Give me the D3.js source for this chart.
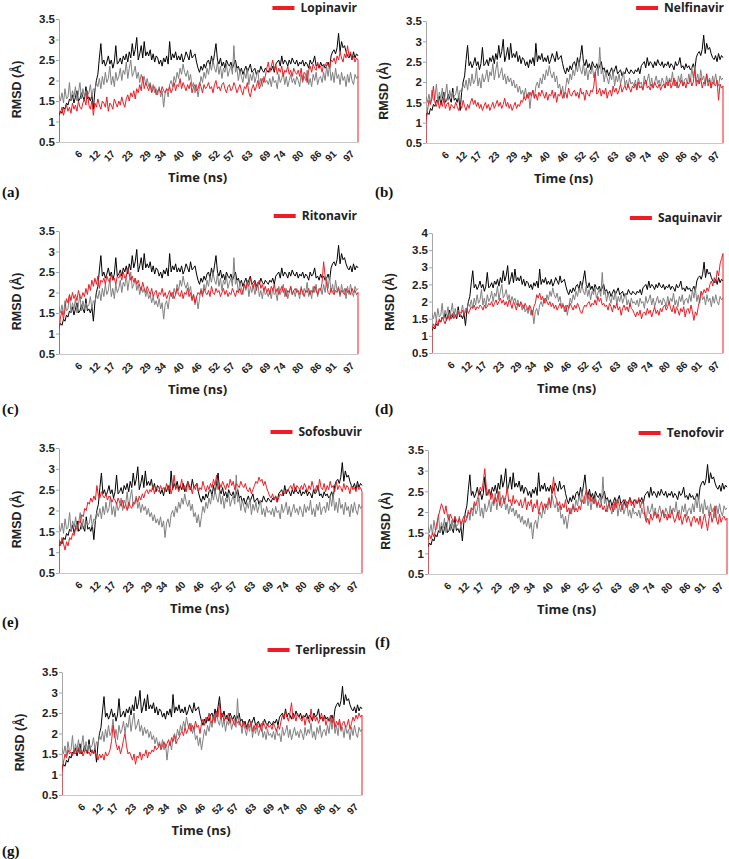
<!DOCTYPE html>
<html><head><meta charset="utf-8">
<script src="https://cdn.jsdelivr.net/npm/d3@7"></script>
<style>body{margin:0;background:#fff}</style></head>
<body>
<svg id="c" width="729" height="859"></svg>
<script>
const drugs = ["Lopinavir","Nelfinavir","Ritonavir","Saquinavir","Sofosbuvir","Tenofovir","Terlipressin"];
const panelTags = ["(a)","(b)","(c)","(d)","(e)","(f)","(g)"];
const xTickLabels = [6,12,17,23,29,34,40,46,52,57,63,69,74,80,86,91,97];
const yTicksLow = [0.5,1,1.5,2,2.5,3,3.5];
const yTicksHigh = [0.5,1,1.5,2,2.5,3,3.5,4];
const timeRange = [0,100];
const edgeValue = 0;

// reference traces (identical in every panel)
const refBlack = [
1.15,1.25,1.2,1.35,1.3,1.45,1.4,1.55,1.5,1.65,1.45,1.6,1.75,1.5,1.55,1.7,1.6,1.5,1.85,1.55,
1.6,1.5,1.65,1.3,1.75,2.0,2.15,2.55,2.9,2.4,2.5,2.35,2.45,2.6,2.4,2.5,2.3,2.45,2.85,2.4,
2.45,2.55,2.4,2.6,2.5,2.65,2.45,2.7,2.55,2.9,2.6,2.75,3.05,2.5,2.65,2.85,2.55,2.95,2.6,2.7,
2.6,2.75,2.5,2.65,2.45,2.6,2.55,2.4,2.5,2.35,2.55,2.45,2.6,2.4,2.95,2.5,2.65,2.55,2.7,2.5,
2.6,2.5,2.65,2.45,2.55,2.7,2.6,2.5,2.75,2.55,2.6,2.65,2.45,2.3,2.2,2.35,2.25,2.4,2.3,2.45,
2.5,2.35,2.6,2.4,2.65,2.9,2.5,2.4,2.55,2.35,2.45,2.3,2.5,2.4,2.35,2.45,2.3,2.4,2.5,2.3,
2.35,2.2,2.3,2.15,2.25,2.35,2.2,2.3,2.4,2.2,2.25,2.3,2.15,2.25,2.2,2.35,2.25,2.2,2.3,2.25,
2.2,2.3,2.25,2.35,2.2,2.4,2.45,2.5,2.35,2.6,2.4,2.5,2.45,2.35,2.5,2.4,2.55,2.45,2.4,2.5,
2.35,2.45,2.4,2.5,2.35,2.45,2.4,2.3,2.5,2.4,2.45,2.6,2.35,2.4,2.3,2.45,2.35,2.4,2.3,2.35,
2.45,2.3,2.6,2.7,2.75,2.65,2.8,3.15,2.7,2.95,2.8,2.85,2.7,2.6,2.55,2.65,2.5,2.7,2.55,2.65,2.6];
const refGray = [
1.65,1.5,1.7,1.45,1.8,1.55,1.6,1.95,1.5,1.75,1.6,1.85,1.5,1.7,1.95,1.55,1.8,1.6,1.75,1.65,
1.7,1.9,1.6,1.8,1.75,1.95,1.85,2.05,1.8,2.1,1.9,2.2,1.95,2.05,2.35,1.9,2.1,1.85,2.2,2.0,
2.1,2.3,2.0,2.25,2.15,2.45,2.05,2.3,2.5,2.1,2.2,2.35,2.05,2.2,1.95,2.15,2.0,2.1,1.9,2.05,
1.85,1.95,1.75,1.9,1.7,1.8,1.65,1.85,1.6,1.75,1.35,1.7,1.8,1.6,1.9,2.0,1.85,2.1,1.95,2.2,
2.05,2.3,2.15,2.4,2.2,2.1,2.25,2.0,2.15,1.85,1.95,1.7,1.9,1.6,1.85,2.1,1.95,2.2,2.05,2.3,
2.15,2.4,2.25,2.5,2.3,2.2,2.45,2.15,2.35,2.05,2.3,2.2,2.4,2.1,2.25,2.35,2.15,2.85,2.2,2.3,
2.0,2.25,2.1,1.95,2.2,2.05,2.3,1.9,2.15,2.0,2.2,1.95,2.1,2.25,1.9,2.05,1.85,2.1,1.95,2.0,
1.9,2.05,1.85,2.1,1.95,2.0,1.8,2.15,1.95,2.05,2.2,1.9,2.1,1.85,2.0,2.15,1.95,2.05,1.9,2.1,
2.0,1.85,2.15,1.95,2.1,2.0,2.25,1.9,2.05,1.85,2.15,2.0,2.2,1.9,2.05,2.1,1.95,2.2,2.0,2.35,
2.1,2.4,2.0,2.2,1.95,2.3,2.05,2.15,1.9,2.2,2.0,2.1,1.85,2.15,1.95,2.2,2.0,1.9,2.15,2.05,2.1];

const redLopinavir = [
1.25,1.2,1.35,1.15,1.3,1.4,1.25,1.35,1.2,1.45,1.3,1.4,1.25,1.5,1.35,1.3,1.45,1.55,1.4,1.75,
1.4,1.3,1.5,1.15,1.45,1.35,1.55,1.4,1.3,1.5,1.45,1.35,1.6,1.25,1.45,1.4,1.3,1.55,1.45,1.35,
1.5,1.4,1.6,1.45,1.35,1.55,1.65,1.5,1.7,1.6,1.75,1.55,1.8,1.7,1.9,1.75,2.1,1.8,1.95,1.85,
1.75,1.9,1.7,1.8,1.85,1.65,1.75,1.8,1.7,1.85,1.75,1.7,1.8,1.75,1.85,1.7,1.8,1.95,1.75,1.9,
1.85,2.05,1.8,1.95,1.85,1.75,1.9,1.8,1.95,1.7,1.85,1.9,1.75,1.8,1.95,1.85,1.7,1.9,1.8,1.85,
1.95,1.8,1.85,1.7,1.9,2.0,1.8,1.85,1.75,1.9,1.95,1.8,1.7,1.85,1.9,1.75,1.8,1.95,1.85,1.7,
1.8,1.9,1.75,1.65,1.85,1.8,1.95,1.7,1.6,1.8,1.9,1.75,1.85,2.0,1.8,1.9,2.05,1.95,2.1,2.3,
2.45,2.2,2.35,2.5,2.25,2.4,2.15,2.3,2.2,2.35,2.1,2.25,2.2,2.35,2.15,2.25,2.1,2.3,2.2,2.15,
2.25,2.1,2.3,2.0,2.2,2.15,1.95,2.25,2.35,2.2,2.4,2.3,2.25,2.45,2.3,2.35,2.2,2.4,2.35,2.45,
2.4,2.3,2.5,2.45,2.55,2.4,2.6,2.5,2.7,2.55,2.45,2.65,2.55,2.85,2.6,2.7,2.5,2.6,2.45,2.55,2.5];
const redNelfinavir = [
1.0,1.3,1.55,1.45,1.6,1.9,1.5,1.4,1.55,1.35,1.5,1.4,1.6,1.35,1.45,1.5,1.3,1.45,1.4,1.35,
1.5,1.4,1.3,1.45,1.35,1.55,1.4,1.3,1.45,1.35,1.5,1.6,1.45,1.55,1.4,1.5,1.35,1.45,1.3,1.4,
1.5,1.35,1.45,1.3,1.4,1.5,1.35,1.45,1.55,1.4,1.5,1.35,1.45,1.6,1.4,1.5,1.35,1.45,1.3,1.4,
1.5,1.35,1.45,1.4,1.55,1.5,1.65,1.55,1.7,1.6,1.75,1.65,1.8,1.6,1.7,1.55,1.75,1.65,1.8,1.7,
1.6,1.75,1.55,1.7,1.65,1.8,1.6,1.75,1.5,1.7,1.65,1.8,1.6,1.7,1.75,1.6,1.85,1.7,1.65,1.75,
1.8,1.65,1.75,1.6,1.85,1.7,1.75,1.55,1.8,1.7,1.65,1.8,1.75,1.9,2.25,1.7,1.75,1.85,1.65,1.8,
1.7,1.85,1.6,1.75,1.8,1.65,1.9,1.75,1.85,1.7,1.8,1.95,1.75,1.85,1.9,1.8,1.95,1.85,1.75,1.9,
1.85,1.95,1.8,2.0,1.85,1.9,1.8,1.95,2.05,1.85,1.9,1.8,1.95,1.85,2.0,1.9,1.85,1.95,1.8,1.9,
1.95,1.85,2.0,1.9,2.05,1.85,1.95,2.1,1.9,2.0,1.85,1.95,2.05,1.9,2.0,1.85,2.0,1.95,2.1,1.9,
2.0,2.3,1.9,2.05,1.95,2.1,1.85,2.0,1.95,2.2,1.9,2.05,1.85,2.0,1.95,1.9,2.05,1.55,1.95,1.85,1.9];
const redRitonavir = [
1.05,1.4,1.55,1.35,1.6,1.85,1.75,1.95,1.8,2.0,1.85,1.95,1.8,2.05,1.9,1.85,2.0,1.9,2.1,1.95,
2.2,2.05,2.3,2.15,2.35,2.2,2.4,2.1,2.3,2.25,2.35,2.2,2.4,2.3,2.25,2.45,2.3,2.35,2.2,2.4,
2.35,2.45,2.3,2.5,2.35,2.4,2.6,2.45,2.3,2.4,2.25,2.35,2.2,2.3,2.15,2.05,2.25,2.1,2.0,2.15,
2.05,1.95,2.1,1.9,2.0,2.05,1.85,2.0,1.95,2.1,1.9,2.0,1.85,1.95,2.05,1.9,2.0,1.85,1.95,2.1,
1.95,1.9,2.05,1.85,2.0,1.95,2.1,1.9,2.0,1.8,1.95,1.75,1.9,2.0,1.95,2.05,1.9,2.1,2.0,1.95,
2.05,1.9,2.15,2.0,1.95,2.1,2.0,2.05,1.9,2.0,2.1,1.95,2.05,1.9,2.0,1.95,2.1,2.0,1.9,2.05,
2.0,2.1,1.95,2.05,2.2,2.1,2.25,2.15,2.35,2.2,2.1,2.25,2.05,2.2,2.3,2.1,2.2,2.05,2.15,2.0,
2.1,1.95,2.15,2.05,2.2,2.0,2.1,1.95,2.05,2.15,2.0,2.1,1.9,2.05,2.0,2.15,1.95,2.05,2.1,2.0,
2.05,1.95,2.1,2.0,1.9,2.05,2.0,2.1,1.95,2.05,2.0,2.15,2.05,1.95,2.1,2.05,2.25,2.75,2.4,2.2,
2.0,1.95,2.1,2.0,1.95,2.05,2.0,2.1,1.95,2.05,2.0,1.95,2.1,2.0,2.05,1.95,2.1,2.0,2.05,1.95,2.0];
const redSaquinavir = [
1.2,1.35,1.25,1.45,1.3,1.5,1.4,1.55,1.45,1.35,1.5,1.6,1.45,1.55,1.65,1.5,1.6,1.55,1.7,1.6,
1.65,1.75,1.6,1.7,1.8,1.65,1.75,1.85,1.8,1.9,1.75,1.85,1.8,1.9,1.85,1.75,1.9,1.8,1.85,1.95,
1.9,2.0,1.85,1.95,2.05,1.9,2.0,2.1,1.95,2.05,1.9,2.0,1.85,2.05,1.95,1.8,2.0,1.9,1.75,1.95,
1.85,2.0,1.9,1.8,1.95,1.85,1.75,1.9,1.8,1.6,1.85,1.95,2.2,2.1,2.25,2.05,2.15,1.95,2.1,2.0,
1.9,2.0,1.85,1.95,1.8,1.9,1.75,1.85,1.95,1.8,1.9,1.85,1.7,1.9,1.8,1.95,1.85,1.75,1.9,1.8,
1.95,1.85,1.7,1.65,1.8,1.9,1.85,1.95,2.0,1.85,1.95,1.9,2.05,1.9,2.15,2.0,2.1,1.9,1.95,1.85,
1.9,1.75,1.95,1.85,1.7,1.9,1.8,1.95,1.75,1.85,1.6,1.8,1.9,1.75,1.85,1.7,1.95,1.8,1.75,1.65,
1.55,1.7,1.6,1.75,1.5,1.65,1.7,1.6,1.8,1.65,1.75,1.55,1.7,1.85,1.65,1.75,1.6,1.8,1.7,1.85,
1.9,1.75,1.85,2.0,1.8,1.7,1.9,1.65,1.85,1.75,1.6,1.8,1.7,1.85,1.55,1.75,1.8,1.65,1.9,1.7,
1.45,1.7,1.6,1.85,2.05,2.3,2.2,2.35,2.25,2.4,2.3,2.5,2.6,2.45,2.7,2.55,2.9,2.75,3.1,3.25,3.4];
const redSofosbuvir = [
1.3,1.15,1.35,1.2,1.05,1.25,1.15,1.35,1.3,1.45,1.4,1.6,1.55,1.75,1.7,1.9,1.85,2.05,2.0,2.2,
2.15,2.3,2.2,2.35,2.25,2.6,2.35,2.3,2.45,2.35,2.3,2.4,2.25,2.35,2.3,2.2,2.3,2.25,2.15,2.3,
2.2,2.1,2.25,2.05,2.15,2.0,2.2,2.1,2.05,2.2,2.15,2.3,2.2,2.35,2.25,2.4,2.3,2.45,2.5,2.4,
2.5,2.45,2.6,2.4,2.55,2.5,2.45,2.6,2.5,2.55,2.45,2.65,2.5,2.6,2.4,2.55,2.85,2.5,2.6,2.45,
2.55,2.75,2.5,2.6,2.45,2.7,2.5,2.55,2.4,2.6,2.5,2.65,2.45,2.55,2.5,2.7,2.55,2.45,2.6,2.5,
2.65,2.55,2.75,2.6,2.85,2.5,2.65,2.55,2.7,2.6,2.5,2.65,2.55,2.75,2.6,2.7,2.5,2.65,2.6,2.55,
2.7,2.6,2.55,2.65,2.5,2.45,2.55,2.4,2.5,2.6,2.7,2.65,2.8,2.7,2.75,2.6,2.7,2.55,2.45,2.35,
2.3,2.4,2.25,2.35,2.2,2.3,2.4,2.35,2.45,2.4,2.5,2.45,2.55,2.6,2.5,2.65,2.45,2.6,2.55,2.5,
2.6,2.5,2.65,2.55,2.45,2.6,2.5,2.7,2.55,2.45,2.6,2.5,2.75,2.55,2.5,2.65,2.45,2.6,2.5,2.7,
2.55,2.6,2.45,2.7,2.5,2.6,2.55,2.45,2.65,2.5,2.6,2.55,2.4,2.6,2.5,2.55,2.45,2.6,2.5,2.55,2.45];
const redTenofovir = [
1.3,1.45,1.35,1.5,1.4,1.55,1.75,1.9,2.05,2.2,2.1,1.95,2.15,1.9,1.8,1.95,1.85,1.75,1.9,1.8,
1.75,1.85,1.7,1.8,1.9,1.75,1.85,2.0,1.95,2.1,2.05,2.25,2.15,2.3,2.45,2.6,2.5,2.75,3.05,2.6,
2.4,2.55,2.3,2.45,2.2,2.35,2.25,2.5,2.15,2.3,2.4,2.2,2.35,2.6,2.25,2.3,2.15,2.4,2.2,2.3,
2.25,2.15,2.3,2.1,2.2,2.35,2.05,2.25,2.15,2.3,2.0,2.2,2.1,2.3,1.95,2.15,2.25,2.05,2.2,2.1,
2.2,2.35,2.1,2.5,2.85,2.4,2.3,2.15,2.25,2.05,2.2,2.1,2.3,2.0,2.1,1.95,2.05,2.15,2.0,2.1,
2.0,2.15,2.05,2.3,2.2,2.4,2.55,2.3,2.45,2.25,2.35,2.2,2.3,2.15,2.25,2.1,2.2,2.05,2.15,2.0,
2.1,2.2,2.05,2.15,2.0,2.25,2.1,2.3,2.15,2.2,2.05,2.25,2.3,2.1,2.2,2.35,2.15,2.25,2.1,2.3,
2.2,2.35,2.1,2.25,2.3,1.9,1.75,1.85,1.7,1.95,1.8,1.9,2.0,1.85,1.95,1.75,1.9,2.05,1.85,1.95,
1.8,1.95,1.85,2.05,1.9,1.75,1.85,2.0,1.8,1.9,1.7,1.85,1.95,1.75,1.9,1.8,1.65,1.85,1.9,1.75,
1.85,1.7,1.9,1.6,1.8,1.95,1.75,1.55,1.85,2.0,1.75,1.9,2.15,1.8,1.7,1.95,1.75,1.85,1.9,1.8,1.85];
const redTerlipressin = [
1.05,1.3,1.5,1.4,1.6,1.5,1.55,1.45,1.6,1.5,1.55,1.65,1.5,1.6,1.45,1.55,1.6,1.5,1.55,1.45,
1.6,1.5,1.55,1.45,1.35,1.5,1.4,1.5,1.35,1.55,1.45,1.5,1.6,1.8,2.2,2.0,1.75,1.6,1.7,1.5,
1.65,1.85,2.0,1.7,1.5,1.55,1.45,1.35,1.5,1.25,1.45,1.4,1.55,1.35,1.5,1.45,1.6,1.4,1.55,1.5,
1.6,1.55,1.7,1.6,1.65,1.75,1.6,1.7,1.8,1.65,1.75,1.85,1.7,1.9,1.8,1.95,1.75,1.85,1.9,2.0,
2.05,1.95,2.15,2.0,2.1,2.25,2.05,2.2,2.1,2.3,2.15,2.2,2.0,2.25,2.35,2.2,2.4,2.3,2.5,2.35,
2.25,2.45,2.3,2.55,2.4,2.75,2.35,2.5,2.3,2.4,2.35,2.5,2.25,2.4,2.3,2.2,2.35,2.25,2.3,2.2,
2.15,2.3,2.2,2.1,2.25,2.15,2.3,2.05,2.2,2.1,2.25,2.15,2.2,2.05,2.3,2.2,2.1,2.25,2.15,2.2,
2.1,2.25,2.15,2.05,2.2,2.1,2.3,2.45,2.35,2.55,2.4,2.3,2.5,2.75,2.35,2.45,2.3,2.5,2.4,2.35,
2.3,2.45,2.2,2.4,2.35,2.25,2.6,2.35,2.45,2.3,2.4,2.25,2.35,2.5,2.3,2.4,2.2,2.35,2.3,2.45,
2.25,2.4,2.15,2.3,2.2,2.35,2.1,2.25,2.3,2.15,2.2,2.35,2.1,2.25,2.4,2.3,2.45,2.35,2.5,2.4,2.45];

const redSeries = [redLopinavir,redNelfinavir,redRitonavir,redSaquinavir,redSofosbuvir,redTenofovir,redTerlipressin];

const colBlack = "#000000", colGray = "#808080", colRed = "#ee1c24";

const layout = [
  {l:59, r:358, t:19,  b:142, yTicks:yTicksLow,  legY:8,   legEnd:357, tagX:2,   tagY:197},
  {l:426,r:723, t:21,  b:143, yTicks:yTicksLow,  legY:8,   legEnd:724, tagX:375, tagY:197},
  {l:59, r:358, t:231, b:354, yTicks:yTicksLow,  legY:216, legEnd:357, tagX:2,   tagY:414},
  {l:432,r:723, t:233, b:353, yTicks:yTicksHigh, legY:218, legEnd:722, tagX:375, tagY:414},
  {l:59, r:362, t:448, b:573, yTicks:yTicksLow,  legY:432, legEnd:362, tagX:2,   tagY:627},
  {l:428,r:727, t:450, b:574, yTicks:yTicksLow,  legY:433, legEnd:724, tagX:375, tagY:647},
  {l:62, r:362, t:672, b:795, yTicks:yTicksLow,  legY:650, legEnd:366, tagX:2,   tagY:856}
];

const svg = d3.select("#c");
const axisColor = "#a6a6a6";

function toPoints(arr){
  const n = arr.length;
  return arr.map((v,i)=>({t: timeRange[0] + i*(timeRange[1]-timeRange[0])/(n-1), v}));
}

layout.forEach((p, k) => {
  const g = svg.append("g");
  const ymax = p.yTicks[p.yTicks.length-1];
  const x = d3.scaleLinear().domain(timeRange).range([p.l, p.r]);
  const y = d3.scaleLinear().domain([p.yTicks[0], ymax]).range([p.b, p.t]);

  const cid = "clip"+k;
  g.append("clipPath").attr("id", cid).append("rect")
    .attr("x", p.l).attr("y", p.t - 30).attr("width", p.r - p.l + 1).attr("height", p.b - p.t + 30);

  const ya = g.append("g").attr("transform", `translate(${p.l},0)`)
    .call(d3.axisLeft(y).tickValues(p.yTicks).tickSize(3).tickSizeOuter(0).tickFormat(d=>String(d)));
  ya.select(".domain").attr("stroke", axisColor);
  ya.selectAll(".tick line").attr("stroke", axisColor);
  ya.selectAll(".tick text").attr("font-family","Liberation Sans, Arial, sans-serif")
    .attr("font-weight","bold").attr("font-size","11.5px").attr("fill","#222").attr("x",-4);

  const xa = g.append("g").attr("transform", `translate(0,${p.b})`)
    .call(d3.axisBottom(x).tickValues(xTickLabels).tickSize(0).tickSizeOuter(0).tickFormat(d=>String(d)));
  xa.select(".domain").attr("stroke", "#c8c8c8");
  xa.selectAll(".tick text")
    .attr("font-family","Liberation Sans, Arial, sans-serif").attr("font-weight","bold")
    .attr("font-size","10px").attr("fill","#222")
    .attr("text-anchor","end").attr("y",0).attr("dy","0.35em")
    .attr("transform","translate(3,10) rotate(-45)");

  const line = d3.line().x(d=>x(d.t)).y(d=>y(d.v));
  const lg = g.append("g").attr("clip-path", `url(#${cid})`);
  lg.append("path").attr("d", line(toPoints(refBlack))).attr("fill","none").attr("stroke",colBlack).attr("stroke-width",1);
  lg.append("path").attr("d", line(toPoints(refGray))).attr("fill","none").attr("stroke",colGray).attr("stroke-width",1);
  const rp = toPoints(redSeries[k]);
  const redPts = [{t:timeRange[0], v:edgeValue}, ...rp, {t:timeRange[1], v:edgeValue}];
  lg.append("path").attr("d", line(redPts)).attr("fill","none").attr("stroke",colRed).attr("stroke-width",1);

  g.append("text").attr("transform", `translate(${p.l-38},${(p.t+p.b)/2+9}) rotate(-90)`)
    .attr("text-anchor","middle").attr("font-family","Liberation Sans, Arial, sans-serif")
    .attr("font-weight","bold").attr("font-size","12.5px").attr("fill","#222").text("RMSD (Å)");
  g.append("text").attr("x", (p.l+p.r)/2 - 11).attr("y", p.b + 40)
    .attr("text-anchor","middle").attr("font-family","Open Sans, sans-serif")
    .attr("font-weight","bold").attr("font-size","13px").attr("fill","#222").text("Time (ns)");

  const lt = g.append("text").attr("x", p.legEnd).attr("y", p.legY).attr("dy","0.35em")
    .attr("text-anchor","end").attr("font-family","Open Sans, sans-serif")
    .attr("font-weight","bold").attr("font-size","12px").attr("fill","#222").text(drugs[k]);
  const w = lt.node().getComputedTextLength();
  g.append("line").attr("x1", p.legEnd - w - 28).attr("x2", p.legEnd - w - 6)
    .attr("y1", p.legY).attr("y2", p.legY).attr("stroke", colRed).attr("stroke-width", 4);

  g.append("text").attr("x", p.tagX).attr("y", p.tagY)
    .attr("font-family","Liberation Serif, Times New Roman, serif").attr("font-weight","bold")
    .attr("font-size","15px").attr("fill","#111").text(panelTags[k]);
});
</script>
</body></html>
